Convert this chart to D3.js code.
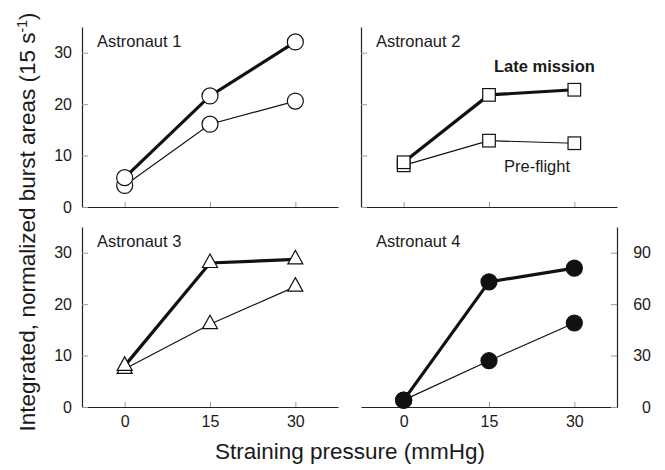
<!DOCTYPE html>
<html>
<head>
<meta charset="utf-8">
<script src="https://cdn.jsdelivr.net/npm/d3@7"></script>
<style>
  body { margin: 0; background: #fff; }
  svg text { font-family: "Liberation Sans", Arial, sans-serif; fill: #1a1a1a; }
</style>
</head>
<body>
<svg id="chart" width="665" height="470"></svg>
<script>
'use strict';

// Data
var pressure = [0, 15, 30];
var xTicks = [0, 15, 30];
var leftTicks = [0, 10, 20, 30];
var rightTicks = [0, 30, 60, 90];

var astro1Late = [5.7, 21.6, 32.1];
var astro1Pre = [4.2, 16.1, 20.6];
var astro2Late = [8.7, 21.8, 22.8];
var astro2Pre = [8.1, 12.9, 12.4];
var astro3Late = [8.0, 28.0, 28.7];
var astro3Pre = [7.4, 16.1, 23.4];
var astro4Late = [4, 73, 81];
var astro4Pre = [4, 27, 49];

var svg = d3.select('#chart');

var panelW = 256, panelH = 180;

var panels = [
  { name: 'Astronaut 1', left: 82, top: 27, late: astro1Late, pre: astro1Pre, marker: 'circle',
    yMax: 35, leftAxis: true, leftLabels: true, xLabels: false },
  { name: 'Astronaut 2', left: 361, top: 27, late: astro2Late, pre: astro2Pre, marker: 'square',
    yMax: 35, leftAxis: true, leftLabels: false, xLabels: false },
  { name: 'Astronaut 3', left: 82, top: 227, late: astro3Late, pre: astro3Pre, marker: 'triangle',
    yMax: 35, leftAxis: true, leftLabels: true, xLabels: true },
  { name: 'Astronaut 4', left: 361, top: 227, late: astro4Late, pre: astro4Pre, marker: 'dot',
    yMax: 105, leftAxis: false, rightAxis: true, xLabels: true }
];

function styleAxis(g) {
  g.select('.domain').attr('stroke', '#222').attr('stroke-width', 1.2);
  g.selectAll('.tick line').attr('stroke', '#999').attr('stroke-width', 1);
  g.selectAll('.tick text')
    .style('font-family', '"Liberation Sans", Arial, sans-serif')
    .style('font-size', '16px')
    .attr('fill', '#1a1a1a');
}

function drawMarker(g, shape, cx, cy) {
  if (shape === 'circle' || shape === 'dot') {
    g.append('circle')
      .attr('cx', cx).attr('cy', cy).attr('r', 8)
      .attr('fill', shape === 'dot' ? '#111' : '#fff')
      .attr('stroke', '#111').attr('stroke-width', 1.2);
  } else if (shape === 'square') {
    g.append('rect')
      .attr('x', cx - 6.3).attr('y', cy - 6.3)
      .attr('width', 12.6).attr('height', 12.6)
      .attr('fill', '#fff').attr('stroke', '#111').attr('stroke-width', 1.2);
  } else {
    // triangle centred on its centroid
    var w = 15, h = 13.5;
    g.append('path')
      .attr('d', 'M' + cx + ',' + (cy - h * 2 / 3) +
        'L' + (cx + w / 2) + ',' + (cy + h / 3) +
        'L' + (cx - w / 2) + ',' + (cy + h / 3) + 'Z')
      .attr('fill', '#fff').attr('stroke', '#111').attr('stroke-width', 1.2);
  }
}

panels.forEach(function(p) {
  var x = d3.scaleLinear().domain([-7.5, 37.5]).range([p.left, p.left + panelW]);
  var y = d3.scaleLinear().domain([0, p.yMax]).range([p.top + panelH, p.top]);
  var bottom = p.top + panelH;

  // bottom axis, ticks pointing inward
  var xAxis = d3.axisBottom(x).tickValues(xTicks).tickSize(-5).tickSizeOuter(0).tickPadding(9);
  if (!p.xLabels) xAxis.tickFormat('');
  svg.append('g').attr('transform', 'translate(0,' + bottom + ')').call(xAxis).call(styleAxis);

  if (p.leftAxis) {
    var yAxis = d3.axisLeft(y).tickValues(leftTicks).tickSize(-6).tickSizeOuter(0).tickPadding(10);
    if (!p.leftLabels) yAxis.tickFormat('');
    svg.append('g').attr('transform', 'translate(' + p.left + ',0)').call(yAxis).call(styleAxis);
  }
  if (p.rightAxis) {
    var rAxis = d3.axisRight(y).tickValues(rightTicks).tickSize(-6).tickSizeOuter(0).tickPadding(34);
    var rg = svg.append('g').attr('transform', 'translate(' + (p.left + panelW) + ',0)').call(rAxis).call(styleAxis);
    rg.selectAll('.tick text').attr('text-anchor', 'end');
  }

  var line = d3.line()
    .x(function(d, i) { return x(pressure[i]); })
    .y(function(d) { return y(d); });

  var g = svg.append('g');
  g.append('path').datum(p.pre).attr('d', line)
    .attr('fill', 'none').attr('stroke', '#111').attr('stroke-width', 1.2);
  g.append('path').datum(p.late).attr('d', line)
    .attr('fill', 'none').attr('stroke', '#111').attr('stroke-width', 3.2);

  p.pre.forEach(function(v, i) { drawMarker(g, p.marker, x(pressure[i]), y(v)); });
  p.late.forEach(function(v, i) { drawMarker(g, p.marker, x(pressure[i]), y(v)); });

  svg.append('text')
    .attr('x', p.left + 15).attr('y', p.top + 20)
    .style('font-size', '16.5px')
    .text(p.name);
});

// Series labels in the Astronaut 2 panel
svg.append('text')
  .attr('x', 494).attr('y', 72)
  .style('font-size', '16.5px').style('font-weight', 'bold')
  .text('Late mission');
svg.append('text')
  .attr('x', 504).attr('y', 172)
  .style('font-size', '16.5px')
  .text('Pre-flight');

// Axis titles
svg.append('text')
  .attr('x', 350).attr('y', 459)
  .attr('text-anchor', 'middle')
  .style('font-size', '22.5px')
  .text('Straining pressure (mmHg)');

var yTitle = svg.append('text')
  .attr('transform', 'translate(35,222) rotate(-90)')
  .attr('text-anchor', 'middle')
  .style('font-size', '22.5px');
yTitle.append('tspan').text('Integrated, normalized burst areas  (15 s');
yTitle.append('tspan').attr('baseline-shift', 'super').style('font-size', '14px').text('-1');
yTitle.append('tspan').text(')');
</script>
</body>
</html>
